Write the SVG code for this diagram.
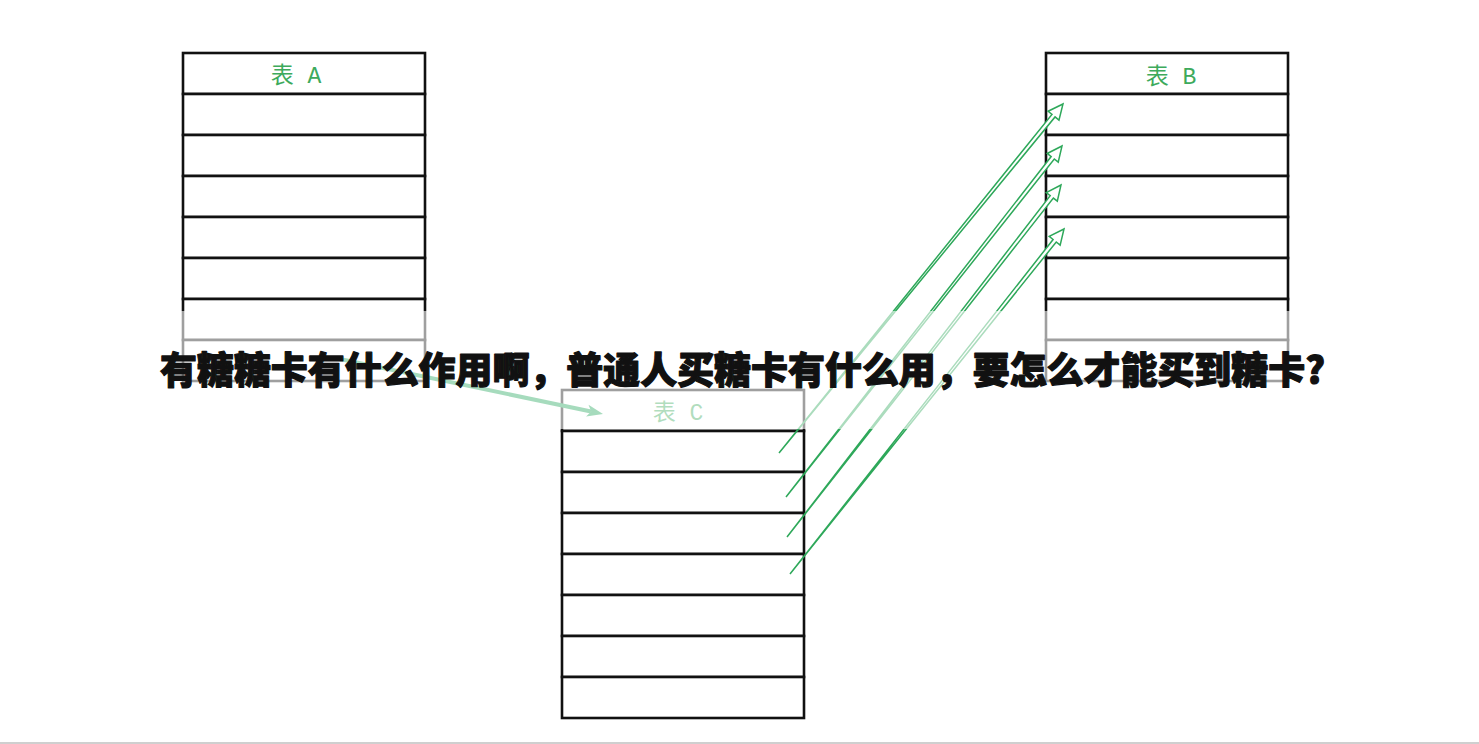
<svg xmlns="http://www.w3.org/2000/svg" width="1479" height="744" viewBox="0 0 1479 744">
<style>
.cell{fill:#fff;stroke:#111;stroke-width:2.6}
.hdr{font-family:"Liberation Mono","Noto Sans CJK SC",monospace;font-size:23px;fill:#3daa5c;text-anchor:middle}
.flow{fill:#fff;stroke:#2ea85a;stroke-width:1.5;stroke-linejoin:miter}
.title{font-family:"Noto Sans CJK SC","Noto Sans",sans-serif;font-weight:900;font-size:37px;fill:#111;stroke:#111;stroke-width:1.2;stroke-linejoin:round}
</style>
<defs>
<g id="tbl">
<rect class="cell" x="0" y="0" width="242" height="41"/>
<rect class="cell" x="0" y="41" width="242" height="41"/>
<rect class="cell" x="0" y="82" width="242" height="41"/>
<rect class="cell" x="0" y="123" width="242" height="41"/>
<rect class="cell" x="0" y="164" width="242" height="41"/>
<rect class="cell" x="0" y="205" width="242" height="41"/>
<rect class="cell" x="0" y="246" width="242" height="41"/>
<rect class="cell" x="0" y="287" width="242" height="41"/>
</g>
</defs>
<rect width="1479" height="744" fill="#fff"/>
<g id="tableA">
<use href="#tbl" x="183" y="53"/>
<text class="hdr" x="296" y="83">表 A</text>
</g>
<g id="tableB">
<use href="#tbl" x="1046" y="53"/>
<text class="hdr" x="1171" y="84">表 B</text>
</g>
<g id="tableC">
<use href="#tbl" x="562" y="390"/>
<text class="hdr" x="678" y="420">表 C</text>
</g>
<g id="connectors">
<line x1="335" y1="358" x2="591" y2="411.5" stroke="#22a55a" stroke-width="4"/>
<polygon points="603,414 586.1,416.6 591.2,411.5 588.5,404.8" fill="#22a55a"/>
<polygon class="flow" points="779,453 1055.08,116.90 1058.96,120.06 1063,104 1048.10,111.22 1051.98,114.38"/>
<polygon class="flow" points="786,497 1054.30,159.03 1058.23,162.12 1062,146 1047.23,153.46 1051.16,156.55"/>
<polygon class="flow" points="787,537 1053.37,198.07 1057.31,201.14 1061,185 1046.27,192.54 1050.21,195.61"/>
<polygon class="flow" points="790,574 1056.24,241.99 1060.15,245.10 1064,229 1049.19,236.40 1053.10,239.51"/>
</g>
<rect x="0" y="311" width="1479" height="118" fill="#fff" fill-opacity="0.6"/>
<text class="title" x="160" y="384" textLength="1165" lengthAdjust="spacingAndGlyphs">有糖糖卡有什么作用啊，普通人买糖卡有什么用，要怎么才能买到糖卡?</text>
<line x1="0" y1="743" x2="1479" y2="743" stroke="#cfcfcf" stroke-width="2"/>
</svg>
